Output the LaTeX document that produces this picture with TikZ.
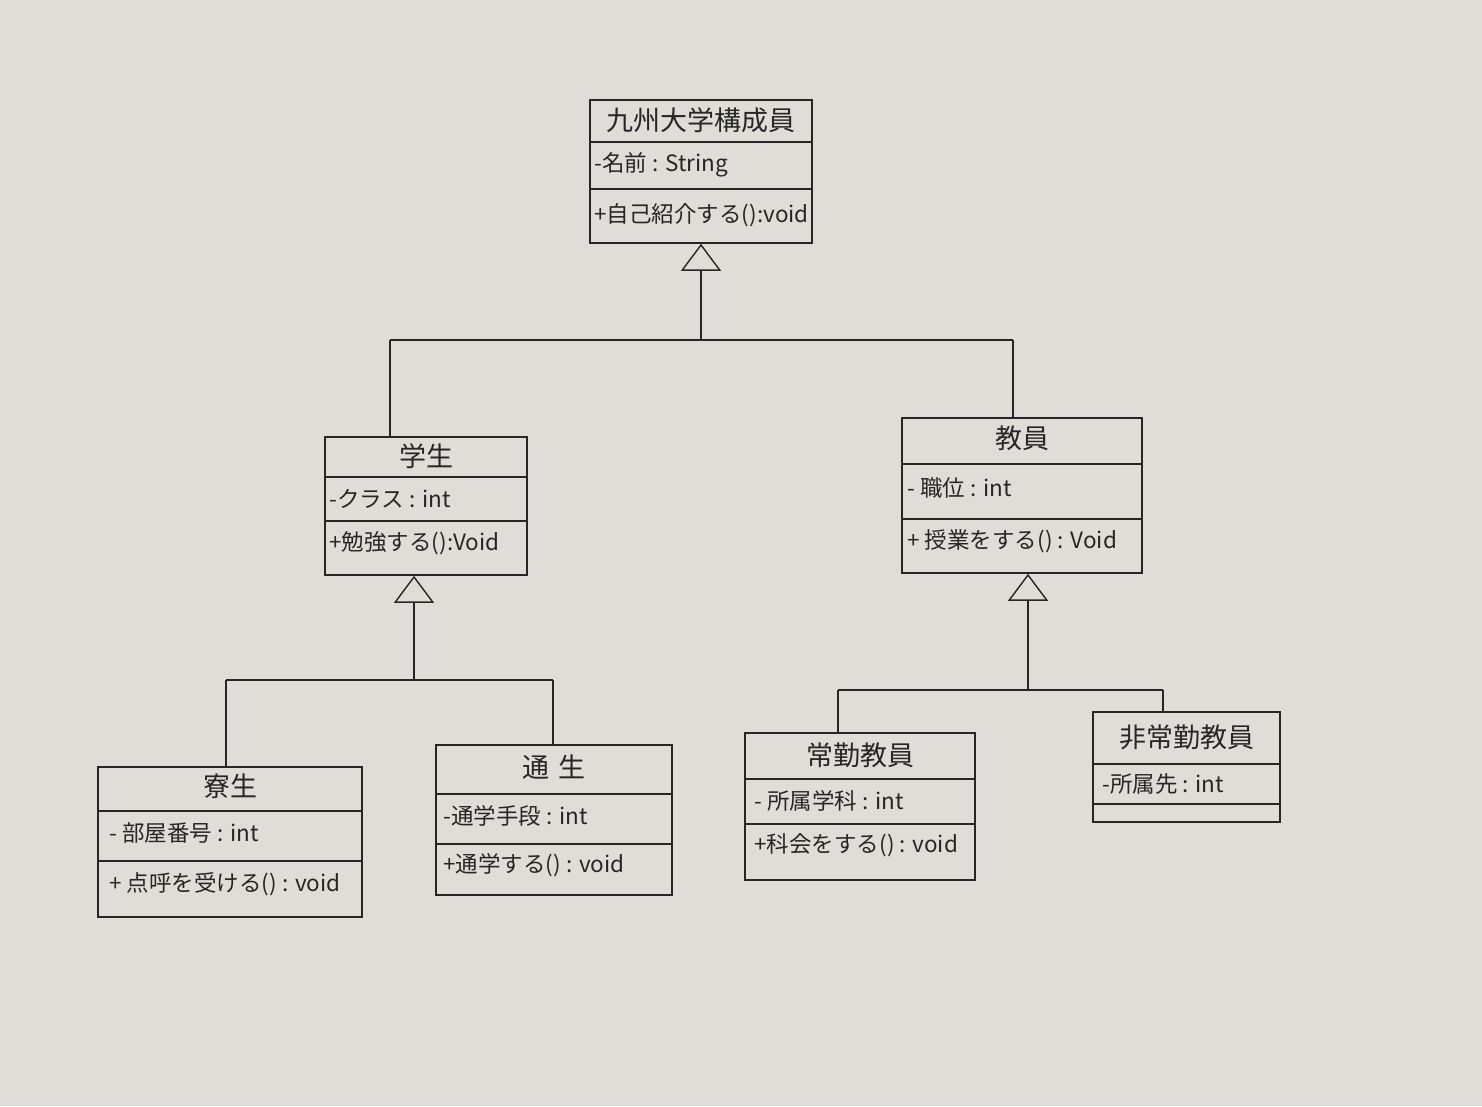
\documentclass[tikz,border=0pt]{standalone}
\usepackage{fontspec}
\newfontfamily\jp{Noto Sans CJK JP}
\usetikzlibrary{arrows.meta}
\definecolor{paper}{RGB}{222,221,216}
\definecolor{ink}{RGB}{38,38,38}
\tikzset{
  umlbox/.style={draw=ink, line width=1.6pt, inner sep=0pt},
  divider/.style={draw=ink, line width=1.6pt},
  ctitle/.style={font=\jp\fontsize{27}{31}\selectfont, text=ink, inner sep=0pt},
  member/.style={font=\jp\fontsize{22.5}{26}\selectfont, text=ink, anchor=west, inner sep=0pt},
  wire/.style={draw=ink, line width=1.4pt},
  gen/.style={draw=ink, line width=1.4pt, -{Triangle[open, length=27pt, width=40pt, line width=1.4pt]}}
}
\begin{document}
\begin{tikzpicture}[x=1pt, y=-1pt]
\fill[paper] (0,0) rectangle (1482,1106);
\useasboundingbox (0,0) rectangle (1482,1106);

% 九州大学構成員
\node[umlbox, minimum width=222pt, minimum height=143pt] (kyushu) at (701,171.5) {};
\draw[divider] ([yshift=-43pt]kyushu.north west) -- ([yshift=-43pt]kyushu.north east);
\draw[divider] ([yshift=-90pt]kyushu.north west) -- ([yshift=-90pt]kyushu.north east);
\node[ctitle] (kyushu-t) at ([yshift=-21.5pt]kyushu.north) {九州大学構成員};
\node[member] (kyushu-a) at ([xshift=5pt, yshift=-66pt]kyushu.north west) {-名前 : String};
\node[member] (kyushu-o) at ([xshift=5pt, yshift=-116pt]kyushu.north west) {+自己紹介する():void};

% 学生
\node[umlbox, minimum width=202pt, minimum height=138pt] (gakusei) at (426,506) {};
\draw[divider] ([yshift=-41pt]gakusei.north west) -- ([yshift=-41pt]gakusei.north east);
\draw[divider] ([yshift=-85pt]gakusei.north west) -- ([yshift=-85pt]gakusei.north east);
\node[ctitle] (gakusei-t) at ([yshift=-20pt]gakusei.north) {学生};
\node[member] (gakusei-a) at ([xshift=5pt, yshift=-63pt]gakusei.north west) {-クラス : int};
\node[member] (gakusei-o) at ([xshift=5pt, yshift=-107pt]gakusei.north west) {+勉強する():Void};

% 教員
\node[umlbox, minimum width=240pt, minimum height=155pt] (kyoin) at (1022,495.5) {};
\draw[divider] ([yshift=-47pt]kyoin.north west) -- ([yshift=-47pt]kyoin.north east);
\draw[divider] ([yshift=-102pt]kyoin.north west) -- ([yshift=-102pt]kyoin.north east);
\node[ctitle] (kyoin-t) at ([yshift=-21pt]kyoin.north) {教員};
\node[member] (kyoin-a) at ([xshift=6pt, yshift=-71pt]kyoin.north west) {- 職位 : int};
\node[member] (kyoin-o) at ([xshift=6pt, yshift=-124pt]kyoin.north west) {+ 授業をする() : Void};

% 寮生
\node[umlbox, minimum width=264pt, minimum height=150pt] (ryosei) at (230,842) {};
\draw[divider] ([yshift=-45pt]ryosei.north west) -- ([yshift=-45pt]ryosei.north east);
\draw[divider] ([yshift=-95pt]ryosei.north west) -- ([yshift=-95pt]ryosei.north east);
\node[ctitle] (ryosei-t) at ([yshift=-20pt]ryosei.north) {寮生};
\node[member] (ryosei-a) at ([xshift=12pt, yshift=-67pt]ryosei.north west) {- 部屋番号 : int};
\node[member] (ryosei-o) at ([xshift=12pt, yshift=-118pt]ryosei.north west) {+ 点呼を受ける() : void};

% 通生
\node[umlbox, minimum width=236pt, minimum height=150pt] (tsusei) at (554,820) {};
\draw[divider] ([yshift=-50pt]tsusei.north west) -- ([yshift=-50pt]tsusei.north east);
\draw[divider] ([yshift=-100pt]tsusei.north west) -- ([yshift=-100pt]tsusei.north east);
\node[ctitle] (tsusei-t) at ([yshift=-23pt]tsusei.north) {通\hspace{10pt}生};
\node[member] (tsusei-a) at ([xshift=8pt, yshift=-72pt]tsusei.north west) {-通学手段 : int};
\node[member] (tsusei-o) at ([xshift=8pt, yshift=-121pt]tsusei.north west) {+通学する() : void};

% 常勤教員
\node[umlbox, minimum width=230pt, minimum height=147pt] (jokin) at (860,806.5) {};
\draw[divider] ([yshift=-47pt]jokin.north west) -- ([yshift=-47pt]jokin.north east);
\draw[divider] ([yshift=-92pt]jokin.north west) -- ([yshift=-92pt]jokin.north east);
\node[ctitle] (jokin-t) at ([yshift=-23pt]jokin.north) {常勤教員};
\node[member] (jokin-a) at ([xshift=10pt, yshift=-69pt]jokin.north west) {- 所属学科 : int};
\node[member] (jokin-o) at ([xshift=10pt, yshift=-113pt]jokin.north west) {+科会をする() : void};

% 非常勤教員
\node[umlbox, minimum width=187pt, minimum height=110pt] (hijokin) at (1186.5,767) {};
\draw[divider] ([yshift=-53pt]hijokin.north west) -- ([yshift=-53pt]hijokin.north east);
\draw[divider] ([yshift=-93pt]hijokin.north west) -- ([yshift=-93pt]hijokin.north east);
\node[ctitle] (hijokin-t) at ([yshift=-26pt]hijokin.north) {非常勤教員};
\node[member] (hijokin-a) at ([xshift=10pt, yshift=-73pt]hijokin.north west) {-所属先 : int};

% generalisation: 学生, 教員 -> 九州大学構成員
\coordinate (j1) at (701,340);
\coordinate (d1) at (390,340);
\coordinate (d2) at (1013,340);
\draw[gen] (j1) -- (kyushu.south);
\draw[wire] (d1) -- (d2);
\draw[wire] (d1) -- (d1 |- gakusei.north);
\draw[wire] (d2) -- (d2 |- kyoin.north);

% generalisation: 寮生, 通生 -> 学生
\coordinate (j2) at (414,680);
\coordinate (d3) at (226,680);
\coordinate (d4) at (553,680);
\draw[gen] (j2) -- (j2 |- gakusei.south);
\draw[wire] (d3) -- (d4);
\draw[wire] (d3) -- (d3 |- ryosei.north);
\draw[wire] (d4) -- (d4 |- tsusei.north);

% generalisation: 常勤教員, 非常勤教員 -> 教員
\coordinate (j3) at (1028,690);
\coordinate (d5) at (838,690);
\coordinate (d6) at (1163,690);
\draw[gen] (j3) -- (j3 |- kyoin.south);
\draw[wire] (d5) -- (d6);
\draw[wire] (d5) -- (d5 |- jokin.north);
\draw[wire] (d6) -- (d6 |- hijokin.north);
\end{tikzpicture}
\end{document}
